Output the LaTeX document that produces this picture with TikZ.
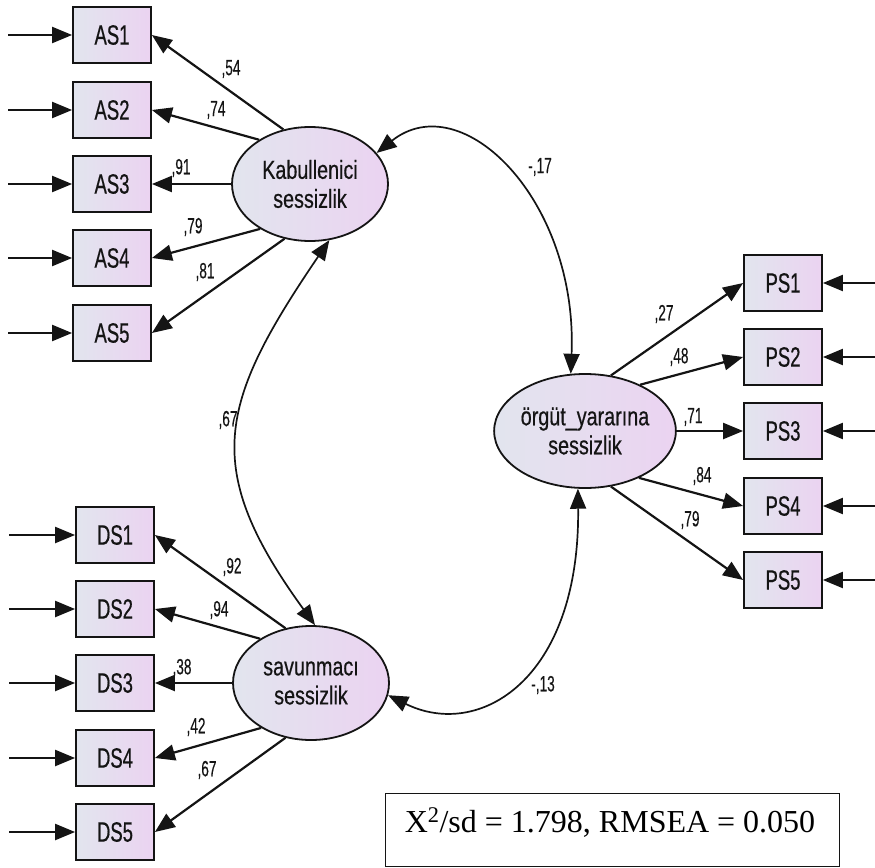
\documentclass[tikz,border=0pt]{standalone}
\usepackage{fontspec}
\setmainfont{Liberation Serif}
\newfontfamily\obsfont{Liberation Sans}[FakeStretch=0.66,FakeBold=0.5]
\newfontfamily\latfont{Liberation Sans}[FakeStretch=0.76,FakeBold=0.5]
\newfontfamily\coeffont{Liberation Sans}[FakeStretch=0.62,FakeBold=0.3]
\usetikzlibrary{shapes.geometric,arrows.meta}
\definecolor{shadeL}{HTML}{E2E5EE}
\definecolor{shadeR}{HTML}{EBD3F1}
\definecolor{ink}{HTML}{141414}
\tikzset{
  >={Triangle[length=20pt,width=16pt]},
  obsbox/.style={draw=ink, line width=1.8pt, minimum width=78pt, minimum height=56pt,
    inner sep=0pt, left color=shadeL, right color=shadeR, text=ink,
    font=\obsfont\fontsize{28}{32}\selectfont},
  latent/.style={ellipse, draw=ink, line width=1.8pt, minimum width=156pt, minimum height=114pt,
    inner sep=0pt, left color=shadeL, right color=shadeR, text=ink, align=center,
    font=\latfont\fontsize{26}{29}\selectfont},
  coef/.style={inner sep=0pt, text=ink, font=\coeffont\fontsize{22}{24}\selectfont},
  path/.style={->, draw=ink, line width=2.2pt},
  errpath/.style={->, draw=ink, line width=2.2pt},
  covpath/.style={<->, draw=ink, line width=1.7pt},
}
\begin{document}
\begin{tikzpicture}[x=1pt, y=-1pt]
\useasboundingbox (0,0) rectangle (875,867);

% latent variables
\node[latent] (K) at (310,184) {Kabullenici\\sessizlik};
\node[latent] (S) at (311,683) {savunmacı\\sessizlik};
\node[latent] (O) at (585,431) {örgüt\_yararına\\sessizlik};

% indicators of Kabullenici sessizlik
\node[obsbox] (AS1) at (112,35) {AS1};
\node[obsbox] (AS2) at (112,110) {AS2};
\node[obsbox] (AS3) at (112,184) {AS3};
\node[obsbox] (AS4) at (112,258) {AS4};
\node[obsbox] (AS5) at (112,333) {AS5};

% indicators of savunmacı sessizlik
\node[obsbox] (DS1) at (115,535) {DS1};
\node[obsbox] (DS2) at (115,609) {DS2};
\node[obsbox] (DS3) at (115,683) {DS3};
\node[obsbox] (DS4) at (115,758) {DS4};
\node[obsbox] (DS5) at (115,832) {DS5};

% indicators of örgüt_yararına sessizlik
\node[obsbox] (PS1) at (783,283) {PS1};
\node[obsbox] (PS2) at (783,357) {PS2};
\node[obsbox] (PS3) at (783,431) {PS3};
\node[obsbox] (PS4) at (783,506) {PS4};
\node[obsbox] (PS5) at (783,580) {PS5};

% free ends of the error terms
\coordinate (eAS1) at (8,35);
\coordinate (eAS2) at (8,110);
\coordinate (eAS3) at (8,184);
\coordinate (eAS4) at (8,258);
\coordinate (eAS5) at (8,333);
\coordinate (eDS1) at (9,535);
\coordinate (eDS2) at (9,609);
\coordinate (eDS3) at (9,683);
\coordinate (eDS4) at (9,758);
\coordinate (eDS5) at (9,832);
\coordinate (ePS1) at (880,283);
\coordinate (ePS2) at (880,357);
\coordinate (ePS3) at (880,431);
\coordinate (ePS4) at (880,506);
\coordinate (ePS5) at (880,580);

\foreach \b in {AS1,AS2,AS3,AS4,AS5,DS1,DS2,DS3,DS4,DS5}
  \draw[errpath] (e\b) -- (\b.west);
\foreach \b in {PS1,PS2,PS3,PS4,PS5}
  \draw[errpath] (e\b) -- (\b.east);

% factor loadings, each leaving its latent variable at a fixed border angle
\foreach \b/\a in {AS1/116,AS2/139,AS3/180,AS4/-138,AS5/-115}
  \draw[path] (K.\a) -- (\b.east);
\foreach \b/\a in {DS1/115,DS2/139,DS3/180,DS4/-138,DS5/-115}
  \draw[path] (S.\a) -- (\b.east);
\foreach \b/\a in {PS1/65,PS2/40,PS3/0,PS4/-41,PS5/-65}
  \draw[path] (O.\a) -- (\b.west);

\node[coef] (cAS1) at (231,69) {,54};
\node[coef] (cAS2) at (216,110) {,74};
\node[coef] (cAS3) at (181,168) {,91};
\node[coef] (cAS4) at (193,227) {,79};
\node[coef] (cAS5) at (205,272) {,81};

\node[coef] (cDS1) at (232,567) {,92};
\node[coef] (cDS2) at (219,610) {,94};
\node[coef] (cDS3) at (182,668) {,38};
\node[coef] (cDS4) at (196,727) {,42};
\node[coef] (cDS5) at (207,770) {,67};

\node[coef] (cPS1) at (664,314) {,27};
\node[coef] (cPS2) at (679,357) {,48};
\node[coef] (cPS3) at (693,417) {,71};
\node[coef] (cPS4) at (702,476) {,84};
\node[coef] (cPS5) at (690,520) {,79};

% covariances between the latent variables
\draw[covpath] (K.-71) .. controls (218,404) and (201,468) .. (S.86);
\draw[covpath] (K.25) .. controls (462,85) and (578,200) .. (O.104);
\draw[covpath] (S.-9) .. controls (479,740) and (580,680) .. (O.-97);

\node[coef] (cKS) at (228,420) {,67};
\node[coef] (cKO) at (540,167) {-,17};
\node[coef] (cSO) at (543,685) {-,13};

% model fit
\draw[draw=ink, line width=1pt] (385,793) rectangle (839,866);
\node[anchor=base, inner sep=0pt, text=black, font=\fontsize{32}{36}\selectfont] (fit) at (610,832)
  {X\textsuperscript{2}/sd = 1.798, RMSEA = 0.050};
\end{tikzpicture}
\end{document}
